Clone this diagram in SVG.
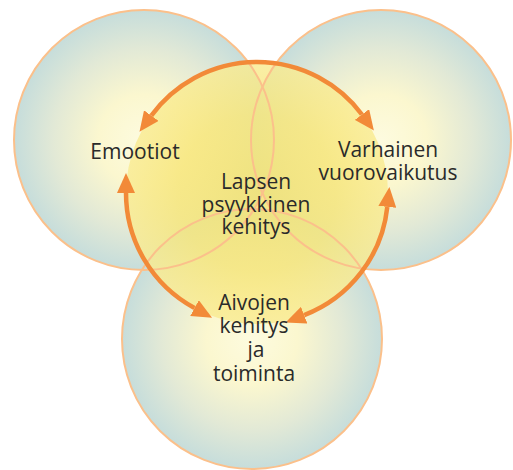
<svg xmlns="http://www.w3.org/2000/svg" width="513" height="470" viewBox="0 0 513 470">
<defs>
<radialGradient id="gOuter" cx="0.5" cy="0.5" r="0.5">
<stop offset="0" stop-color="#fdfbdf"/>
<stop offset="0.35" stop-color="#fbf7cf"/>
<stop offset="0.7" stop-color="#e2e9d6"/>
<stop offset="1" stop-color="#c6dddb"/>
</radialGradient>
<radialGradient id="gCenter" cx="0.5" cy="0.5" r="0.5">
<stop offset="0" stop-color="#f6e36c"/>
<stop offset="0.6" stop-color="#f7e679"/>
<stop offset="1" stop-color="#f9eb92"/>
</radialGradient>
<marker id="ah" viewBox="0 0 20 18" refX="0" refY="9" markerWidth="20" markerHeight="18" markerUnits="userSpaceOnUse" orient="auto-start-reverse">
<path d="M0,0 L20,9 L0,18 Z" fill="#f28a38"/>
</marker>
<style>
.outer{fill:url(#gOuter);}
.ol{fill:none;stroke:#fbc08b;stroke-width:2;}
.arc{fill:none;stroke:#f28a38;stroke-width:4.5;marker-start:url(#ah);marker-end:url(#ah);}
.lbl{font-family:"Open Sans","Noto Sans","Liberation Sans",sans-serif;font-size:21px;fill:#2a2a2a;text-anchor:middle;}
</style>
</defs>
<g id="node-emootiot"><circle class="outer" cx="144" cy="140" r="130"/></g>
<g id="node-varhainen"><circle class="outer" cx="381" cy="140" r="130"/></g>
<g id="node-aivojen"><circle class="outer" cx="252" cy="339" r="130"/></g>
<g id="node-lapsen"><circle cx="257" cy="193" r="131" fill="url(#gCenter)" opacity="0.82"/></g>
<g id="outlines">
<circle class="ol" cx="144" cy="140" r="130"/>
<circle class="ol" cx="381" cy="140" r="130"/>
<circle class="ol" cx="252" cy="339" r="130"/>
</g>
<g id="connectors">
<path class="arc" d="M151.3,115.6 A131,131 0 0 1 361.9,114.5"/>
<path class="arc" d="M126,193 A131,131 0 0 0 194.5,308.1"/>
<path class="arc" d="M387.3,206.9 A131,131 0 0 1 304.2,315.2"/>
</g>
<g id="labels">
<text id="label-emootiot" class="lbl" x="135" y="159">Emootiot</text>
<text id="label-varhainen" class="lbl"><tspan x="388" y="157">Varhainen</tspan><tspan x="388" y="180">vuorovaikutus</tspan></text>
<text id="label-lapsen" class="lbl"><tspan x="256" y="189">Lapsen</tspan><tspan x="256" y="212">psyykkinen</tspan><tspan x="256" y="234">kehitys</tspan></text>
<text id="label-aivojen" class="lbl"><tspan x="254" y="310">Aivojen</tspan><tspan x="254" y="333">kehitys</tspan><tspan x="256" y="357">ja</tspan><tspan x="254" y="381">toiminta</tspan></text>
</g>
</svg>
